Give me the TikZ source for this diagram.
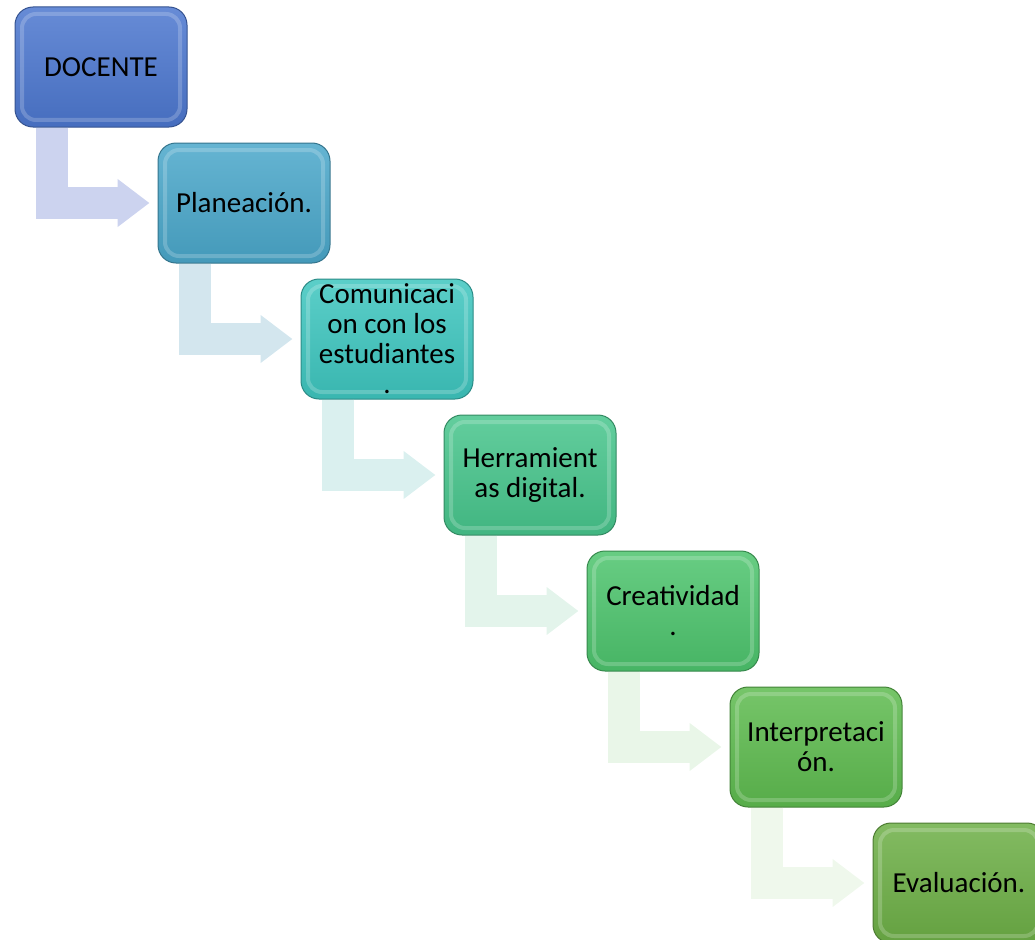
\documentclass[tikz,border=0pt]{standalone}
\usepackage{fontspec}
\setmainfont{Carlito}
\usetikzlibrary{arrows.meta, positioning, calc}

\definecolor{boxA}{HTML}{4C77CF}
\definecolor{boxB}{HTML}{4AA7CA}
\definecolor{boxC}{HTML}{3EC6BF}
\definecolor{boxD}{HTML}{47C58C}
\definecolor{boxE}{HTML}{4DC46D}
\definecolor{boxF}{HTML}{5EBB4F}
\definecolor{boxG}{HTML}{6DAF46}
\definecolor{flowA}{HTML}{CCD3EF}
\definecolor{flowB}{HTML}{D3E6EE}
\definecolor{flowC}{HTML}{DAF0EF}
\definecolor{flowD}{HTML}{E3F4EB}
\definecolor{flowE}{HTML}{E9F6E8}
\definecolor{flowF}{HTML}{EFF8EC}

\begin{document}
\begin{tikzpicture}[
    node distance=15pt and -30pt,
    stage/.style={rounded corners=18pt, minimum width=172pt, minimum height=120pt,
        inner sep=0pt, align=center, font=\fontsize{29}{30}\selectfont,
        draw=#1!70!black, line width=1pt, top color=#1!85!white, bottom color=#1!92!black,
        path picture={\draw[white, opacity=0.2, line width=4pt, rounded corners=14pt]
            ($(path picture bounding box.south west)+(7pt,7pt)$) rectangle
            ($(path picture bounding box.north east)+(-7pt,-7pt)$);}},
    flow/.style={draw=#1, line width=32pt, -{Triangle[length=32pt, width=46pt]}, shorten >=8pt}
]
\useasboundingbox (0pt,0pt) rectangle (1035pt,-939pt);

\node[stage=boxA] (docente) at (101pt,-67pt) {DOCENTE};
\node[stage=boxB, below right=of docente] (planeacion) {Planeación.};
\node[stage=boxC, below right=of planeacion] (comunicacion) {Comunicaci\\on con los\\estudiantes\\.};
\node[stage=boxD, below right=of comunicacion] (herramientas) {Herramient\\as digital.};
\node[stage=boxE, below right=of herramientas] (creatividad) {Creatividad\\.};
\node[stage=boxF, below right=of creatividad] (interpretacion) {Interpretaci\\ón.};
\node[stage=boxG, below right=of interpretacion] (evaluacion) {Evaluación.};

\draw[flow=flowA] ($(docente.south west)+(37pt,0)$) |- (planeacion.west);
\draw[flow=flowB] ($(planeacion.south west)+(37pt,0)$) |- (comunicacion.west);
\draw[flow=flowC] ($(comunicacion.south west)+(37pt,0)$) |- (herramientas.west);
\draw[flow=flowD] ($(herramientas.south west)+(37pt,0)$) |- (creatividad.west);
\draw[flow=flowE] ($(creatividad.south west)+(37pt,0)$) |- (interpretacion.west);
\draw[flow=flowF] ($(interpretacion.south west)+(37pt,0)$) |- (evaluacion.west);
\end{tikzpicture}
\end{document}
